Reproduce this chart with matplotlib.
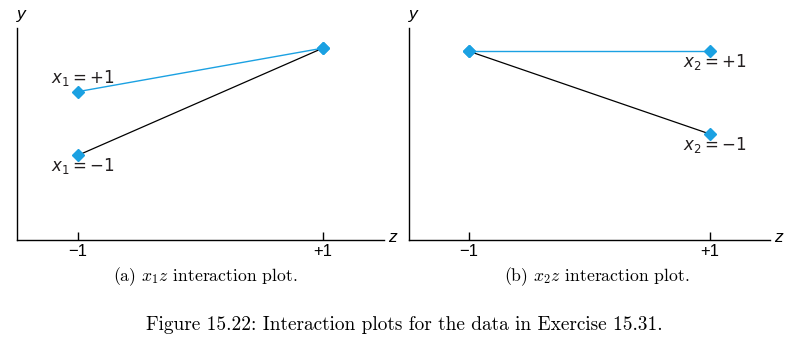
import matplotlib
matplotlib.use("Agg")
import matplotlib.pyplot as plt

# z levels and mean responses
z_levels = [-1, 1]
z_ticklabels = ["\u22121", "+1"]

y_x1_plus = [7.0, 9.05]
y_x1_minus = [4.0, 9.05]
y_x2_plus = [8.9, 8.9]
y_x2_minus = [8.9, 5.0]

blue = "#1ba1e2"

fig = plt.figure(figsize=(7.96, 3.38), dpi=100)

ax1 = fig.add_axes([17 / 796, 98 / 338, 367 / 796, 212 / 338])
ax2 = fig.add_axes([409 / 796, 98 / 338, 361 / 796, 212 / 338])


def style_axes(ax):
    ax.set_xlim(-1.5, 1.5)
    ax.set_ylim(0, 10)
    for side in ["top", "right"]:
        ax.spines[side].set_visible(False)
    for side in ["left", "bottom"]:
        ax.spines[side].set_linewidth(1.0)
    ax.set_xticks(z_levels)
    ax.set_xticklabels(z_ticklabels, fontsize=12, family="Liberation Sans")
    ax.tick_params(axis="x", direction="in", length=6, width=1, pad=3)
    ax.set_yticks([])
    # axis names at the ends of the axis lines
    ax.text(0.0, 1.03, "y", transform=ax.transAxes, fontsize=12.5,
            style="italic", family="Liberation Sans", ha="left", va="bottom")
    ax.text(1.012, 0.01, "z", transform=ax.transAxes, fontsize=12.5,
            style="italic", family="Liberation Sans", ha="left", va="center")


style_axes(ax1)
style_axes(ax2)

mk = dict(ls="none", marker="D", ms=6.3, color=blue)

# (a) x1 z interaction
ax1.plot(z_levels, y_x1_plus, color=blue, lw=1.0)
ax1.plot(z_levels, y_x1_minus, color="black", lw=0.9)
ax1.plot(z_levels, y_x1_plus, **mk)
ax1.plot(z_levels, y_x1_minus, **mk)

lab_kw = dict(textcoords="offset pixels", fontsize=12, ha="left",
              va="center", color="#231f20", math_fontfamily="dejavusans")
ax1.annotate(r"$x_1{=}{+}1$", (z_levels[0], y_x1_plus[0]), xytext=(-27, 14), **lab_kw)
ax1.annotate(r"$x_1{=}{-}1$", (z_levels[0], y_x1_minus[0]), xytext=(-27, -11), **lab_kw)

# (b) x2 z interaction
ax2.plot(z_levels, y_x2_plus, color=blue, lw=1.0)
ax2.plot(z_levels, y_x2_minus, color="black", lw=0.9)
ax2.plot(z_levels, y_x2_plus, **mk)
ax2.plot(z_levels, y_x2_minus, **mk)

ax2.annotate(r"$x_2{=}{+}1$", (z_levels[1], y_x2_plus[1]), xytext=(-27, -11), **lab_kw)
ax2.annotate(r"$x_2{=}{-}1$", (z_levels[1], y_x2_minus[1]), xytext=(-27, -11), **lab_kw)

# captions
sub_kw = dict(fontsize=12.7, family="cmr10", math_fontfamily="cm",
              ha="center", va="center")
fig.text(205 / 796, 1 - 277 / 338, r"(a) $x_1z$ interaction plot.", **sub_kw)
fig.text(597 / 796, 1 - 277 / 338, r"(b) $x_2z$ interaction plot.", **sub_kw)
fig.text(404 / 796, 1 - 325 / 338,
         "Figure 15.22: Interaction plots for the data in Exercise 15.31.",
         fontsize=13.9, family="cmr10", ha="center", va="center")

fig.savefig("out.png", dpi=100)
